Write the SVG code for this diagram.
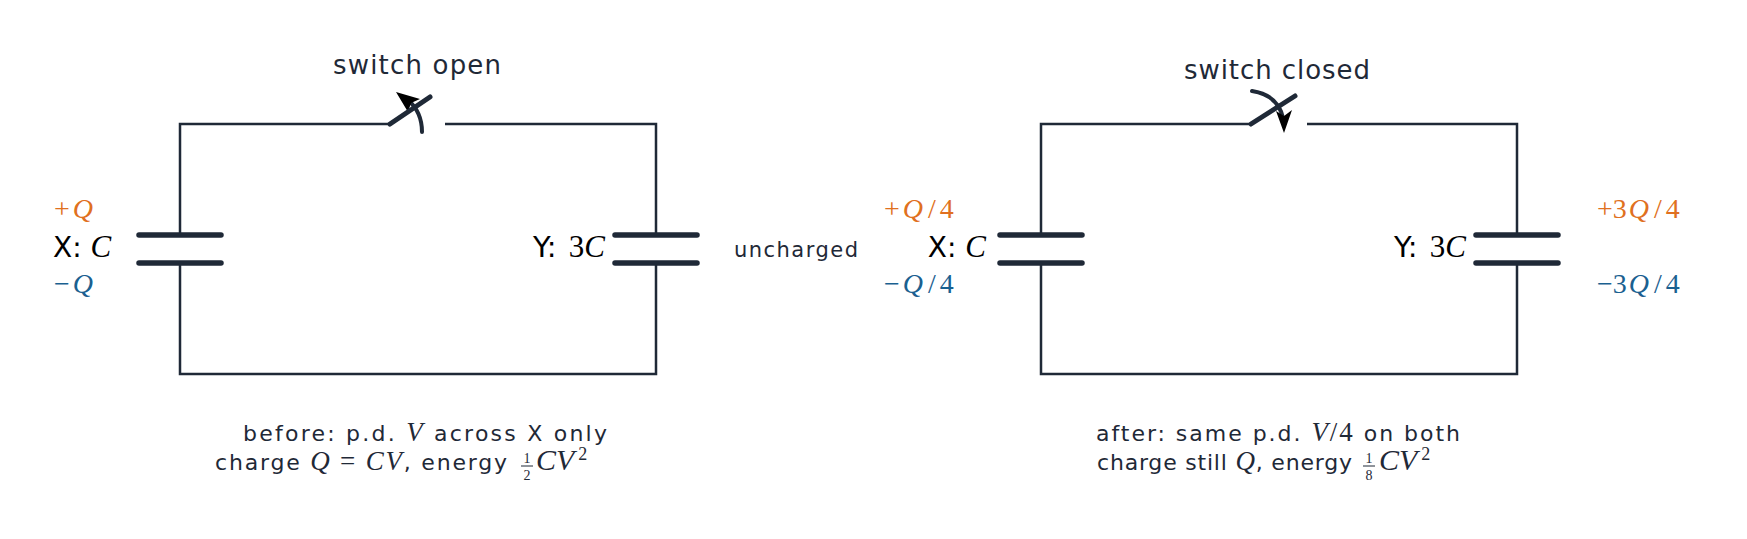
<svg xmlns="http://www.w3.org/2000/svg" width="1747" height="539" viewBox="0 0 1747 539">
<defs>
<style>
.w{stroke:#1f2937;stroke-width:2.5;fill:none}
.p{stroke:#1f2937;stroke-width:5.5;stroke-linecap:round}
.b{stroke:#1f2937;stroke-width:5;stroke-linecap:round}
.a{stroke:#1f2937;stroke-width:4;fill:none;stroke-linecap:round}
.s{font-family:"DejaVu Sans",sans-serif;fill:#1f2937}
.m{font-family:"Liberation Serif",serif;font-style:italic}
.r{font-family:"Liberation Serif",serif;font-style:normal}
.o{fill:#e07020}
.bl{fill:#1a6090}
</style>
</defs>
<rect width="1747" height="539" fill="#fff"/>
<g id="connectors">
<path class="w" d="M180,235 V124 H390 M445,124 H656 V235 M656,263 V374 H180 V263"/>
<path class="w" d="M1041,235 V124 H1251 M1307,124 H1517 V235 M1517,263 V374 H1041 V263"/>
<path class="a" d="M422,132 Q422,112 408,100"/>
<path d="M396,92 L420,99 L411,103 L408,112 Z" fill="#000"/>
<path class="a" d="M1252,91 Q1278,95 1283,118"/>
<path d="M1284,133 L1276,111 L1284,116 L1292,110 Z" fill="#000"/>
</g>
<g id="switch-open"><line class="b" x1="390" y1="124" x2="430" y2="97"/></g>
<g id="switch-closed"><line class="b" x1="1251" y1="124" x2="1295" y2="96"/></g>
<g id="cap-X1"><line class="p" x1="139" y1="235" x2="221" y2="235"/><line class="p" x1="139" y1="263" x2="221" y2="263"/></g>
<g id="cap-Y1"><line class="p" x1="615" y1="235" x2="697" y2="235"/><line class="p" x1="615" y1="263" x2="697" y2="263"/></g>
<g id="cap-X2"><line class="p" x1="1000" y1="235" x2="1082" y2="235"/><line class="p" x1="1000" y1="263" x2="1082" y2="263"/></g>
<g id="cap-Y2"><line class="p" x1="1476" y1="235" x2="1558" y2="235"/><line class="p" x1="1476" y1="263" x2="1558" y2="263"/></g>
<g id="labels" class="s">
<text x="417" y="74" font-size="26" text-anchor="middle" textLength="168" lengthAdjust="spacing">switch open</text>
<text x="1277" y="79" font-size="26" text-anchor="middle" textLength="186" lengthAdjust="spacing">switch closed</text>
<text x="54" y="218" font-size="28" class="o"><tspan class="r">+</tspan><tspan class="m" dx="3">Q</tspan></text>
<text x="53" y="257" font-size="28" fill="#000">X: <tspan class="m" font-size="31">C</tspan></text>
<text x="54" y="293" font-size="28" class="bl"><tspan class="r">−</tspan><tspan class="m" dx="3">Q</tspan></text>
<text x="605" y="257" font-size="29" text-anchor="end" fill="#000">Y: <tspan class="r" font-size="31" dx="3">3</tspan><tspan class="m" font-size="31">C</tspan></text>
<text x="734" y="257" font-size="21" textLength="124" lengthAdjust="spacing">uncharged</text>
<text x="884" y="218" font-size="28" class="o"><tspan class="r">+</tspan><tspan class="m" dx="3">Q</tspan><tspan class="r" dx="5">/</tspan><tspan class="r" dx="4">4</tspan></text>
<text x="986" y="257" font-size="28" text-anchor="end" fill="#000">X: <tspan class="m" font-size="31">C</tspan></text>
<text x="884" y="293" font-size="28" class="bl"><tspan class="r">−</tspan><tspan class="m" dx="3">Q</tspan><tspan class="r" dx="5">/</tspan><tspan class="r" dx="4">4</tspan></text>
<text x="1466" y="257" font-size="29" text-anchor="end" fill="#000">Y: <tspan class="r" font-size="31" dx="3">3</tspan><tspan class="m" font-size="31">C</tspan></text>
<text x="1597" y="218" font-size="28" class="o"><tspan class="r">+3</tspan><tspan class="m" dx="2">Q</tspan><tspan class="r" dx="5">/</tspan><tspan class="r" dx="4">4</tspan></text>
<text x="1597" y="293" font-size="28" class="bl"><tspan class="r">−3</tspan><tspan class="m" dx="2">Q</tspan><tspan class="r" dx="5">/</tspan><tspan class="r" dx="4">4</tspan></text>

<text x="243" y="441" font-size="22" textLength="364" lengthAdjust="spacing">before: p.d. <tspan class="m" font-size="27">V</tspan> across X only</text>
<text x="215" y="470" font-size="22" textLength="292" lengthAdjust="spacing">charge <tspan class="m" font-size="27">Q</tspan><tspan class="r" font-size="27"> = </tspan><tspan class="m" font-size="27">CV</tspan>, energy</text>
<text x="527" y="463" font-size="14" class="r" text-anchor="middle">1</text>
<line x1="521" y1="466" x2="533" y2="466" stroke="#1f2937" stroke-width="1"/>
<text x="527" y="480" font-size="14" class="r" text-anchor="middle">2</text>
<text x="536" y="470" font-size="30" class="m">CV<tspan class="r" font-size="18" dy="-10" dx="4">2</tspan></text>

<text x="1096" y="441" font-size="22" textLength="364" lengthAdjust="spacing">after: same p.d. <tspan class="m" font-size="27">V</tspan><tspan class="r" font-size="27">/4</tspan> on both</text>
<text x="1097" y="470" font-size="22" textLength="255" lengthAdjust="spacing">charge still <tspan class="m" font-size="27">Q</tspan>, energy</text>
<text x="1369" y="463" font-size="14" class="r" text-anchor="middle">1</text>
<line x1="1363" y1="466" x2="1375" y2="466" stroke="#1f2937" stroke-width="1"/>
<text x="1369" y="480" font-size="14" class="r" text-anchor="middle">8</text>
<text x="1379" y="470" font-size="30" class="m">CV<tspan class="r" font-size="18" dy="-10" dx="4">2</tspan></text>
</g>
</svg>
